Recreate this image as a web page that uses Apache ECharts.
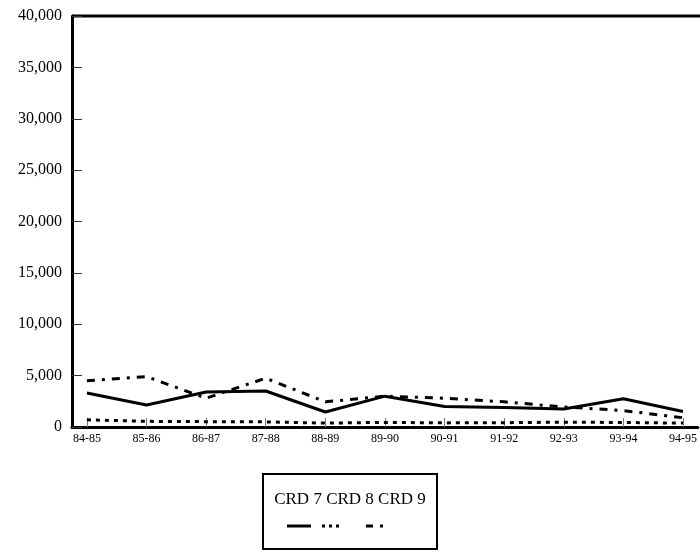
<!DOCTYPE html>
<html>
<head>
<meta charset="utf-8">
<script src="https://cdn.jsdelivr.net/npm/echarts@6/dist/echarts.min.js"></script>
<style>
html,body{margin:0;padding:0;background:#fff;}
#chart{width:700px;height:554px;}
</style>
</head>
<body>
<div id="chart"></div>
<script>
var categories = ['84-85','85-86','86-87','87-88','88-89','89-90','90-91','91-92','92-93','93-94','94-95'];
var crd7 = [3300, 2150, 3400, 3500, 1460, 3000, 2000, 1900, 1750, 2750, 1500];
var crd8 = [700, 550, 520, 500, 380, 450, 400, 420, 470, 440, 380];
var crd9 = [4500, 4900, 2800, 4750, 2450, 3000, 2800, 2450, 1950, 1600, 900];
var seriesNames = ['CRD 7', 'CRD 8', 'CRD 9'];

var idx = categories.map(function (_, i) { return i; });
function pts(arr) { return arr.map(function (v, i) { return [i, v]; }); }

var font = 'Liberation Serif';
var chart = echarts.init(document.getElementById('chart'), null, {renderer: 'canvas'});
chart.setOption({
  backgroundColor: '#fff',
  animation: false,
  grid: {left: 72, right: 0, top: 16, bottom: 127, containLabel: false},
  xAxis: {
    type: 'value',
    min: -0.25,
    max: 10.25,
    axisLine: {show: true, onZero: false, lineStyle: {color: '#000', width: 3}},
    axisTick: {show: true, inside: true, length: 9, customValues: idx, lineStyle: {color: '#777', width: 1}},
    axisLabel: {
      customValues: idx,
      formatter: function (v) { return categories[Math.round(v)]; },
      fontFamily: font, fontSize: 12, color: '#000', margin: 6
    },
    splitLine: {show: false}
  },
  yAxis: {
    type: 'value',
    min: 0,
    max: 40000,
    interval: 5000,
    axisLine: {show: true, onZero: false, lineStyle: {color: '#000', width: 3}},
    axisTick: {show: true, inside: true, length: 10, lineStyle: {color: '#333', width: 1}},
    axisLabel: {
      fontFamily: font, fontSize: 16, color: '#000', margin: 10,
      formatter: function (v) { return v.toLocaleString('en-US'); }
    },
    splitLine: {show: false}
  },
  series: [
    {name: seriesNames[0], type: 'line', data: pts(crd7), showSymbol: false,
     lineStyle: {color: '#000', width: 3, type: 'solid'}},
    {name: seriesNames[1], type: 'line', data: pts(crd8), showSymbol: false,
     lineStyle: {color: '#000', width: 3, type: [4, 5]}},
    {name: seriesNames[2], type: 'line', data: pts(crd9), showSymbol: false,
     lineStyle: {color: '#000', width: 3, type: [8, 7, 3, 7]}}
  ],
  graphic: [
    {type: 'line', shape: {x1: 72, y1: 16, x2: 700, y2: 16}, style: {stroke: '#000', lineWidth: 3}},
    {type: 'rect', shape: {x: 263, y: 474, width: 174, height: 75}, style: {fill: '#fff', stroke: '#000', lineWidth: 2}},
    {type: 'text', style: {x: 350, y: 500, text: seriesNames.join(' '), font: '17px "Liberation Serif"', fill: '#000', align: 'center', verticalAlign: 'middle'}},
    {type: 'line', shape: {x1: 287, y1: 526, x2: 311, y2: 526}, style: {stroke: '#000', lineWidth: 3}},
    {type: 'line', shape: {x1: 322, y1: 526, x2: 340, y2: 526}, style: {stroke: '#000', lineWidth: 3, lineDash: [3, 4]}},
    {type: 'line', shape: {x1: 366, y1: 526, x2: 390, y2: 526}, style: {stroke: '#000', lineWidth: 3, lineDash: [7, 7, 3, 7]}}
  ]
});
</script>
</body>
</html>
